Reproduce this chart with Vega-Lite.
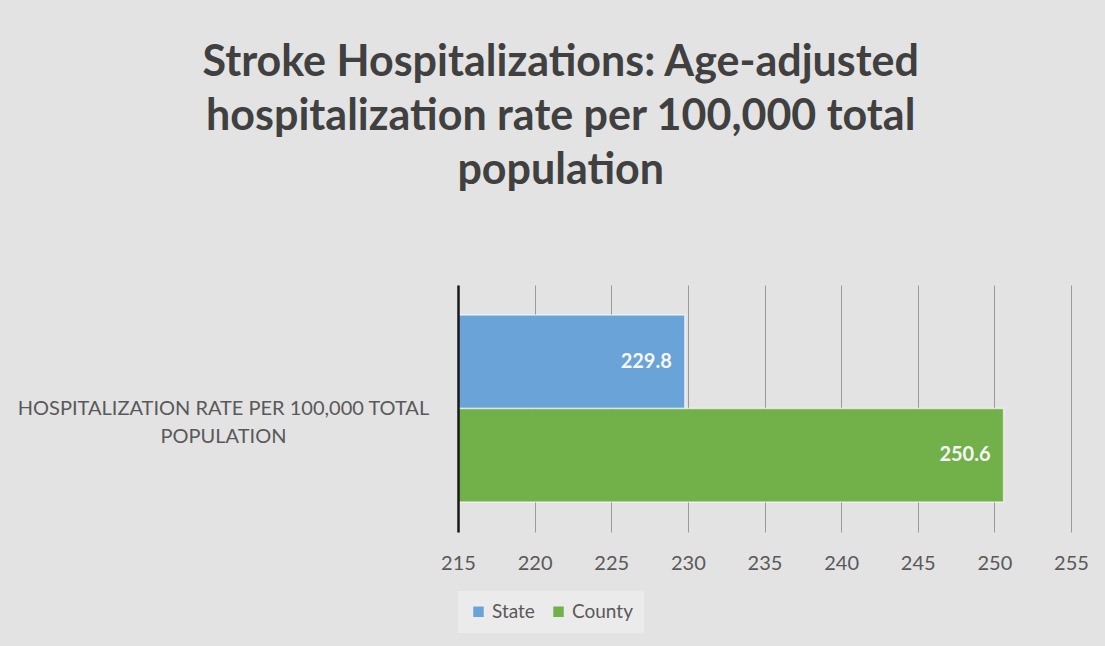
{
  "$schema": "https://vega.github.io/schema/vega-lite/v6.json",
  "width": 613,
  "height": 247,
  "autosize": {"type": "none"},
  "padding": {"left": 458, "top": 285, "right": 34, "bottom": 114},
  "background": "#e3e3e3",
  "config": {"view": {"stroke": null}},
  "title": {
    "text": ["Stroke Hospitalizations: Age-adjusted", "hospitalization rate per 100,000 total", "population"],
    "font": "Lato",
    "fontSize": 43,
    "fontWeight": "bold",
    "color": "#404040",
    "lineHeight": 54,
    "anchor": "middle",
    "frame": "bounds",
    "dx": 8,
    "offset": 92
  },
  "data": {
    "values": [
      {"category": "HOSPITALIZATION RATE PER 100,000 TOTAL POPULATION", "series": "State", "rate": 229.8},
      {"category": "HOSPITALIZATION RATE PER 100,000 TOTAL POPULATION", "series": "County", "rate": 250.6}
    ]
  },
  "encoding": {
    "y": {
      "field": "category",
      "type": "nominal",
      "scale": {"paddingOuter": 0.16, "paddingInner": 0},
      "axis": {
        "title": null,
        "ticks": false,
        "grid": false,
        "domain": true,
        "zindex": 2,
        "domainColor": "#1a1a1a",
        "domainWidth": 2.5,
        "labelExpr": "[slice(datum.label, 0, 38), slice(datum.label, 39)]",
        "labelAlign": "center",
        "labelPadding": 235,
        "labelFont": "Lato",
        "labelFontSize": 20,
        "labelColor": "#595959",
        "labelLineHeight": 28,
        "labelLimit": 600
      }
    },
    "yOffset": {"field": "series", "sort": ["State", "County"], "scale": {"paddingInner": 0}}
  },
  "layer": [
    {
      "mark": {"type": "bar", "stroke": "#ffffff", "strokeOpacity": 0.6, "strokeWidth": 1.5},
      "encoding": {
        "x": {
          "field": "rate",
          "type": "quantitative",
          "scale": {"domain": [215, 255], "zero": false, "nice": false},
          "axis": {
            "title": null,
            "values": [215, 220, 225, 230, 235, 240, 245, 250, 255],
            "grid": true,
            "gridColor": "#9a9a9a",
            "gridWidth": 1,
            "domain": false,
            "ticks": false,
            "labelFlush": false,
            "labelPadding": 21,
            "labelFont": "Lato",
            "labelFontSize": 20,
            "labelColor": "#595959"
          }
        },
        "x2": {"datum": 215},
        "color": {
          "field": "series",
          "type": "nominal",
          "sort": ["State", "County"],
          "scale": {"domain": ["State", "County"], "range": ["#6aa3d8", "#72b04a"]},
          "legend": {
            "title": null,
            "orient": "bottom",
            "direction": "horizontal",
            "symbolType": "square",
            "symbolSize": 110,
            "symbolStrokeWidth": 0,
            "labelFont": "Lato",
            "labelFontSize": 19,
            "labelColor": "#595959",
            "fillColor": "#ebebeb",
            "padding": 11,
            "offset": 18,
            "columnPadding": 14
          }
        }
      }
    },
    {
      "mark": {"type": "text", "align": "right", "dx": -13, "font": "Lato", "fontSize": 20, "fontWeight": "bold", "color": "#f7f7f7"},
      "encoding": {
        "x": {"field": "rate", "type": "quantitative"},
        "text": {"field": "rate", "type": "quantitative", "format": ".1f"}
      }
    }
  ]
}
